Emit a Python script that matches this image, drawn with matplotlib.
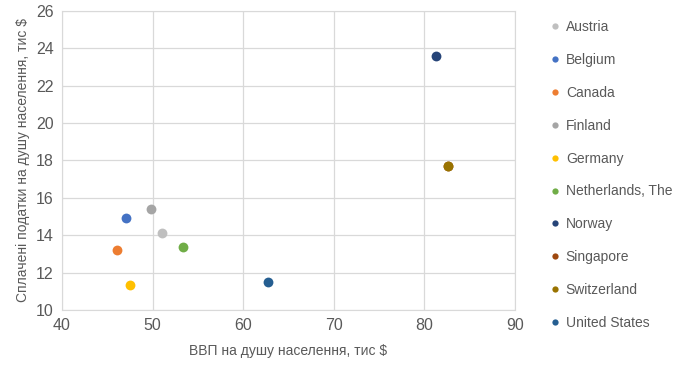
import matplotlib.pyplot as plt
from matplotlib.lines import Line2D

plt.rcParams['font.family'] = ['Liberation Sans', 'DejaVu Sans']

countries = ['Austria', 'Belgium', 'Canada', 'Finland', 'Germany',
             'Netherlands, The', 'Norway', 'Singapore', 'Switzerland', 'United States']
gdp = [51.0, 47.1, 46.1, 49.8, 47.5, 53.4, 81.3, 82.6, 82.6, 62.7]
tax = [14.1, 14.9, 13.2, 15.4, 11.35, 13.35, 23.6, 17.7, 17.7, 11.5]
colors = ['#BFBFBF', '#4472C4', '#ED7D31', '#A5A5A5', '#FFC000',
          '#70AD47', '#264478', '#9E480E', '#997300', '#255E91']

fig = plt.figure(figsize=(6.81, 3.74), dpi=100)
ax = fig.add_axes([0.091, 0.171, 0.665, 0.80])

for c, x, y, col in zip(countries, gdp, tax, colors):
    ax.scatter(x, y, s=50, color=col, zorder=3, linewidths=0)

ax.set_xlim(40, 90)
ax.set_ylim(10, 26)
ax.set_xticks(range(40, 91, 10))
ax.set_yticks(range(10, 27, 2))
ax.grid(True, color='#D9D9D9', linewidth=0.9)
ax.set_axisbelow(True)
for s in ax.spines.values():
    s.set_color('#D9D9D9')
ax.tick_params(length=0, labelsize=11.5, colors='#595959', pad=6)
ax.set_xlabel('ВВП на душу населення, тис $', fontsize=10, color='#595959', labelpad=8)
ax.set_ylabel('Сплачені податки на душу населення, тис $', fontsize=10, color='#595959', labelpad=4)

handles = [Line2D([], [], marker='o', linestyle='', markersize=4.5, color=col,
                  markeredgewidth=0) for col in colors]
leg = fig.legend(handles, countries, loc='upper left', bbox_to_anchor=(0.787, 0.98),
                 frameon=False, fontsize=10, labelspacing=1.36, handletextpad=0.25,
                 handlelength=1.0)
for t in leg.get_texts():
    t.set_color('#595959')

fig.savefig('out.png', dpi=100)
